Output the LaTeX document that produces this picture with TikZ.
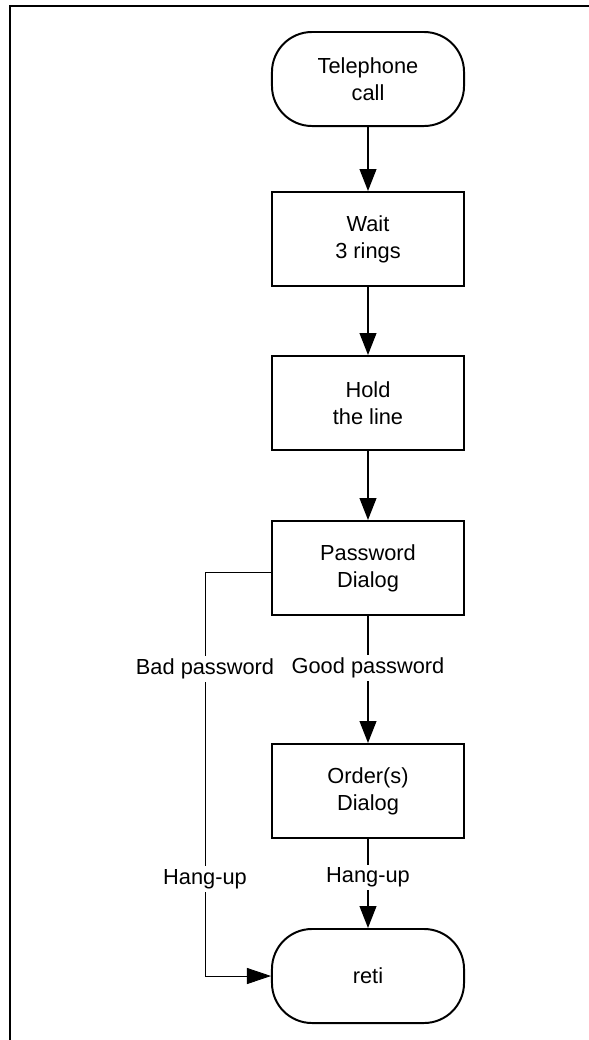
\documentclass[tikz,border=0pt]{standalone}
\usepackage{fontspec}
\setmainfont{Liberation Sans}
\usetikzlibrary{arrows.meta,positioning}

\tikzset{
  flow/.style={draw, line width=1.4pt, minimum width=4.8cm, minimum height=2.35cm,
    inner sep=0pt, align=center, font=\fontsize{15.5}{19.2}\selectfont},
  proc/.style={flow},
  term/.style={flow, rounded corners=1cm},
  link/.style={line width=1.2pt, -{Triangle[length=0.55cm,width=0.42cm]}},
  hang/.style={line width=0.6pt, -{Triangle[length=0.6cm,width=0.4cm]}},
  lbl/.style={fill=white, inner sep=2pt, font=\fontsize{15.5}{19.2}\selectfont},
}

\begin{document}
\begin{tikzpicture}[x=0.025cm, y=-0.025cm]
\useasboundingbox (0,0) rectangle (589,1040);
% page frame (only left and top edges show)
\draw[line width=1.8pt] (10,1040) -- (10,6) -- (589,6);

\node[term] (call) at (368,79)  {Telephone\\call};
\node[proc] (wait) at (368,239) {Wait\\3 rings};
\node[proc] (hold) at (368,403) {Hold\\the line};
\node[proc] (pwd)  at (368,568) {Password\\Dialog};
\node[proc] (ord)  at (368,791) {Order(s)\\Dialog};
\node[term] (reti) at (368,976) {reti};

\draw[link] (call) -- (wait);
\draw[link] (wait) -- (hold);
\draw[link] (hold) -- (pwd);
\draw[link] (pwd) -- node[lbl, pos=0.41] {Good password} (ord);
\draw[link] (ord) -- node[lbl, pos=0.43] {Hang-up} (reti);

% bad password goes straight to the end
\coordinate (bad) at (205,572);
\draw[hang] (bad -| pwd.west) -- (bad)
  -- node[lbl, pos=0.24] {Bad password} node[lbl, pos=0.76] {Hang-up} (bad |- reti.west)
  -- (reti.west);
\end{tikzpicture}
\end{document}
